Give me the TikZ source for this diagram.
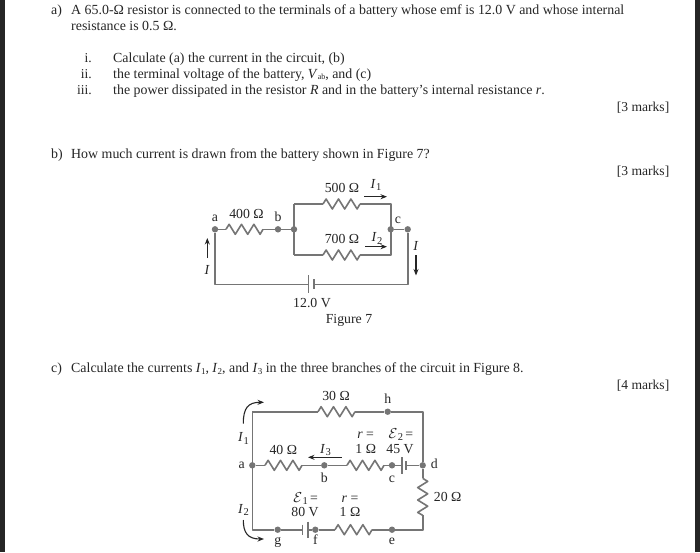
\documentclass[tikz,border=0pt]{standalone}
\usepackage{fontspec}
\setmainfont{Liberation Serif}
\usetikzlibrary{arrows.meta}
\definecolor{wirec}{HTML}{757575}
\definecolor{inkc}{HTML}{262626}
\newcommand{\Isub}[1]{\textit{I}\kern0.3pt{\fontsize{10.5}{10}\selectfont\raisebox{-2.5pt}{#1}}}
\newcommand{\Esub}[1]{$\mathcal{E}$\kern0.3pt{\fontsize{10.5}{10}\selectfont\raisebox{-2.5pt}{#1}}\,=}
\tikzset{
  body/.style={anchor=base west,inner sep=0pt,text=inkc,font=\fontsize{13.9}{15}\selectfont},
  numr/.style={anchor=base east,inner sep=0pt,text=inkc,font=\fontsize{13.6}{15}\selectfont},
  lbl/.style={anchor=base,inner sep=0pt,text=inkc,font=\fontsize{13.8}{14}\selectfont},
  wire/.style={draw=wirec,line width=1.6pt,line join=round},
  jn/.style={circle,fill=wirec,inner sep=0pt,minimum size=6.4pt},
  curarrow/.style={draw=inkc,line width=1.1pt,-{Stealth[length=6.5pt,width=5pt]}},
  zig/.pic={\draw[wire] (0,0)--(3.1,-5)--(9.3,5)--(15.5,-5)--(21.7,5)--(27.9,-5)--(34.1,5)--(37,0);}
}
\begin{document}
\begin{tikzpicture}[x=1pt,y=-1pt]
\useasboundingbox (0,0) rectangle (700,552);
\fill[white] (0,0) rectangle (700,552);
\fill[black!85] (0,0) rectangle (5,552);
\fill[black!85] (695,0) rectangle (700,552);
% text
\node[body] (ta) at (51,14) {a)};
\node[body] (ta1) at (71,14) {A 65.0-Ω resistor is connected to the terminals of a battery whose emf is 12.0 V and whose internal};
\node[body] (ta2) at (71,30) {resistance is 0.5 Ω.};
\node[numr] (n1) at (92,62) {i.};
\node[numr] (n2) at (92,78) {ii.};
\node[numr] (n3) at (92,94) {iii.};
\node[body] (l1) at (113,62) {Calculate (a) the current in the circuit, (b)};
\node[body] (l2) at (113,78) {the terminal voltage of the battery, \textit{V}{\fontsize{8}{8}\selectfont\raisebox{-1.5pt}{ab}}, and (c)};
\node[body] (l3) at (113,94) {the power dissipated in the resistor \textit{R} and in the battery’s internal resistance \textit{r}.};
\node[numr] (m1) at (669.5,111) {[3 marks]};
\node[body] (tb) at (51,158) {b)};
\node[body] (tb1) at (71,158) {How much current is drawn from the battery shown in Figure 7?};
\node[numr] (m2) at (669.5,175) {[3 marks]};
\node[body] (tc) at (51,372) {c)};
\node[body] (tc1) at (71,372) {Calculate the currents \textit{I}{\fontsize{9}{9}\selectfont\raisebox{-2pt}{1}}, \textit{I}{\fontsize{9}{9}\selectfont\raisebox{-2pt}{2}}, and \textit{I}{\fontsize{9}{9}\selectfont\raisebox{-2pt}{3}} in the three branches of the circuit in Figure 8.};
\node[numr] (m3) at (669.5,389) {[4 marks]};

% ---------- Figure 7
\node[jn] (A) at (215,229.3) {};
\node[jn] (B) at (278,229.3) {};
\node[jn] (J) at (294,229.3) {};
\node[jn] (C) at (390.7,229.3) {};
\node[jn] (D) at (407.7,229.3) {};
\coordinate (JT) at (294,204);
\coordinate (JB) at (294,255);
\coordinate (CT) at (390.7,204);
\coordinate (CB) at (390.7,255);
\coordinate (AB) at (215,284.3);
\coordinate (DB) at (407.7,284.3);
\coordinate (R4a) at (226,229.3); \coordinate (R4b) at (263,229.3);
\coordinate (R5a) at (323,204); \coordinate (R5b) at (360,204);
\coordinate (R7a) at (323,255); \coordinate (R7b) at (360,255);
\coordinate (P1) at (308.3,284.3); \coordinate (P2) at (314,284.3);
\coordinate (P1t) at (308.3,275.3); \coordinate (P1b) at (308.3,293.3);
\coordinate (P2t) at (314,279.3); \coordinate (P2b) at (314,289.3);
\draw[wire] (A)--(R4a) (R4b)--(B)--(J);
\draw[wire] (R4a) pic{zig};
\draw[wire] (JT)--(JB);
\draw[wire] (JT)--(R5a) (R5b)--(CT)--(CB)--(R7b) (R7a)--(JB);
\draw[wire] (R5a) pic{zig};
\draw[wire] (R7a) pic{zig};
\draw[wire] (C)--(D)--(DB)--(P2) (P1)--(AB)--(A);
\draw[wire] (P1t)--(P1b) (P2t)--(P2b);
\coordinate (a1s) at (364,196.7); \coordinate (a1e) at (387,196.7);
\coordinate (a2s) at (365,246.7); \coordinate (a2e) at (387,246.7);
\coordinate (a3s) at (416,255); \coordinate (a3e) at (416,275.5);
\coordinate (a4s) at (207.3,258); \coordinate (a4e) at (207.3,238);
\draw[curarrow] (a1s)--(a1e);
\draw[curarrow] (a2s)--(a2e);
\draw[curarrow] (a3s)--(a3e);
\draw[curarrow] (a4s)--(a4e);
\node[lbl] (la) at (215,221.7) {a};
\node[lbl] (l400) at (246.5,218.3) {400 Ω};
\node[lbl] (lb) at (278,221.7) {b};
\node[lbl] (l500) at (342,192.7) {500 Ω};
\node[lbl] (lI1) at (376,188) {\Isub{1}};
\node[lbl] (lc) at (398,223) {c};
\node[lbl] (l700) at (342,243) {700 Ω};
\node[lbl] (lI2) at (377,241.7) {\Isub{2}};
\node[lbl] (lIr) at (416,250) {\textit{I}};
\node[lbl] (lIl) at (207.3,274) {\textit{I}};
\node[lbl] (l12) at (312,307) {12.0 V};
\node[lbl] (fig7) at (349,323.5) {Figure 7};

% ---------- Figure 8
\coordinate (TL) at (252.3,411.7);
\coordinate (TR) at (422.7,411.7);
\coordinate (BL) at (252.3,529.7);
\coordinate (BR) at (422.7,529.7);
\node[jn] (a8) at (252.3,465.3) {};
\node[jn] (b8) at (324.3,465.3) {};
\node[jn] (c8) at (392,465.3) {};
\node[jn] (d8) at (422.7,465.3) {};
\node[jn] (e8) at (392,529.7) {};
\node[jn] (f8) at (315.3,529.7) {};
\node[jn] (g8) at (277.7,529.7) {};
\node[jn] (h8) at (387.7,411.7) {};
\coordinate (R30a) at (318,411.7); \coordinate (R30b) at (355,411.7);
\coordinate (R40a) at (265,465.3); \coordinate (R40b) at (302,465.3);
\coordinate (Rra) at (347,465.3); \coordinate (Rrb) at (384,465.3);
\coordinate (R20a) at (422.7,478.3); \coordinate (R20b) at (422.7,515.3);
\coordinate (Rsb) at (335,529.7); \coordinate (Rsa) at (372,529.7);
\coordinate (E2a) at (401.7,465.3); \coordinate (E2b) at (406,465.3);
\coordinate (E2at) at (401.7,457.3); \coordinate (E2ab) at (401.7,474.3);
\coordinate (E2bt) at (406,461); \coordinate (E2bb) at (406,470);
\coordinate (E1a) at (302.3,529.7); \coordinate (E1b) at (307.7,529.7);
\coordinate (E1at) at (302.3,524.5); \coordinate (E1ab) at (302.3,535);
\coordinate (E1bt) at (307.7,521.5); \coordinate (E1bb) at (307.7,538);
\draw[wire] (TL)--(R30a) (R30b)--(h8)--(TR)--(d8)--(R20a);
\draw[wire] (R30a) pic{zig};
\draw[wire] (R20a) pic[rotate=-90]{zig};
\draw[wire] (R20b)--(BR)--(e8)--(Rsa) (Rsb)--(f8)--(E1b) (E1a)--(g8)--(BL)--(TL);
\draw[wire] (Rsb) pic{zig};
\draw[wire] (a8)--(R40a) (R40b)--(b8)--(Rra) (Rrb)--(c8)--(E2a) (E2b)--(d8);
\draw[wire] (R40a) pic{zig};
\draw[wire] (Rra) pic{zig};
\draw[wire] (E2at)--(E2ab) (E2bt)--(E2bb) (E1at)--(E1ab) (E1bt)--(E1bb);
\coordinate (i1s) at (243.3,423.5); \coordinate (i1e) at (264,402.3);
\coordinate (i2s) at (243.3,520); \coordinate (i2e) at (264,539);
\coordinate (i3s) at (341.7,457.3); \coordinate (i3e) at (308,457.3);
\draw[curarrow] (i1s) .. controls (243.3,408) and (248,402.3) .. (i1e);
\draw[curarrow] (i2s) .. controls (243.3,533) and (248,539) .. (i2e);
\draw[curarrow] (i3s)--(i3e);
\node[lbl] (l30) at (336,400.7) {30 Ω};
\node[lbl] (lh) at (387.7,403.3) {h};
\node[lbl] (J1) at (243.5,441.7) {\Isub{1}};
\node[lbl] (lr1) at (365.7,438.3) {\textit{r} =};
\node[lbl] (le2) at (401,438.3) {\Esub{2}};
\node[lbl] (l1o) at (365.7,453.3) {1 Ω};
\node[lbl] (l45) at (400,453.3) {45 V};
\node[lbl] (l40) at (283.3,454.3) {40 Ω};
\node[lbl] (J3) at (325.5,453.3) {\Isub{3}};
\node[lbl] (la8) at (241.7,468.5) {a};
\node[lbl] (ld8) at (434.3,468.5) {d};
\node[lbl] (lb8) at (324.3,482.3) {b};
\node[lbl] (lc8) at (392,482.3) {c};
\node[lbl] (l20) at (447.7,501) {20 Ω};
\node[lbl] (le1) at (305.7,502.3) {\Esub{1}};
\node[lbl] (lr2) at (350,502.3) {\textit{r} =};
\node[lbl] (l80) at (305,516.7) {80 V};
\node[lbl] (l1o2) at (350,516.7) {1 Ω};
\node[lbl] (J2) at (243.5,513.3) {\Isub{2}};
\node[lbl] (lg8) at (277.7,544) {g};
\node[lbl] (lf8) at (315.3,544) {f};
\node[lbl] (le8) at (392,544) {e};
\end{tikzpicture}
\end{document}
